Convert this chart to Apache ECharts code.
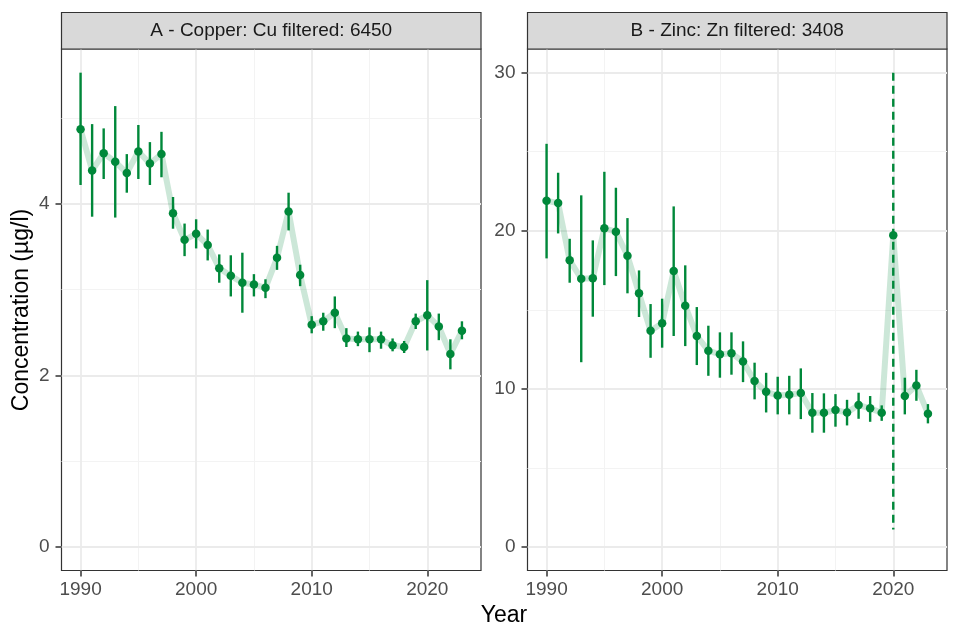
<!DOCTYPE html>
<html>
<head>
<meta charset="utf-8">
<script src="https://cdn.jsdelivr.net/npm/echarts@6/dist/echarts.min.js"></script>
<style>html,body{margin:0;padding:0;background:#fff}#c{width:960px;height:640px}</style>
</head>
<body>
<div id="c"></div>
<script>
const years = [1990,1991,1992,1993,1994,1995,1996,1997,1998,1999,2000,2001,2002,2003,2004,2005,2006,2007,2008,2009,2010,2011,2012,2013,2014,2015,2016,2017,2018,2019,2020,2021,2022,2023];
const cuMean = [4.87,4.39,4.59,4.49,4.36,4.61,4.47,4.58,3.89,3.58, 3.65,3.52,3.25,3.16,3.08,3.06,3.02,3.37,3.91,3.17, 2.59,2.63,2.73,2.43,2.42,2.42,2.42,2.35,2.33,2.63, 2.70,2.57,2.25,2.52];
const cuLow  = [4.22,3.85,4.29,3.84,4.13,4.29,4.22,4.31,3.71,3.39, 3.48,3.34,3.08,2.92,2.73,2.92,2.90,3.23,3.69,3.04, 2.49,2.52,2.55,2.33,2.34,2.27,2.31,2.28,2.26,2.54, 2.29,2.41,2.07,2.42];
const cuHigh = [5.53,4.93,4.88,5.14,4.58,4.92,4.72,4.84,4.08,3.77, 3.82,3.70,3.41,3.40,3.43,3.18,3.12,3.51,4.13,3.29, 2.69,2.73,2.92,2.55,2.51,2.56,2.51,2.43,2.40,2.72, 3.11,2.72,2.42,2.63];
const znMean = [21.9,21.75,18.13,16.96,17.0,20.15,19.94,18.42,16.04,13.67, 14.14,17.45,15.25,13.34,12.41,12.18,12.24,11.73,10.49,9.81, 9.58,9.62,9.73,8.48,8.48,8.65,8.5,8.97,8.76,8.48, 19.72,9.54,10.21,8.42];
const znLow  = [18.25,19.83,16.71,11.68,14.56,16.56,17.13,16.04,14.54,11.96, 12.6,13.34,12.7,11.5,10.82,10.70,10.89,10.42,9.33,8.5, 8.38,8.38,8.08,7.22,7.22,7.6,7.68,8.1,7.91,7.97, 1.1,8.38,9.24,7.81];
const znHigh = [25.5,23.67,19.49,22.24,19.39,23.73,22.72,20.8,17.49,15.36, 15.70,21.54,17.81,15.17,13.99,13.57,13.57,13.0,11.65,11.01, 10.76,10.82,11.29,9.73,9.71,9.66,9.3,9.75,9.54,8.95, 30.0,10.7,11.2,9.03];
const znDashedYears = [2020];
const xMajor = [1990,2000,2010,2020];
const xMinor = [1995,2005,2015];
const cuYMajor = [0,2,4];
const cuYMinor = [1,3,5];
const znYMajor = [0,10,20,30];
const znYMinor = [5,15,25];
const titleA = 'A - Copper: Cu filtered: 6450';
const titleB = 'B - Zinc: Zn filtered: 3408';

const GREEN = '#00883A';
const FONT = 'Liberation Sans, Arial, sans-serif';
const chart = echarts.init(document.getElementById('c'), null, {renderer:'canvas'});

const gridA = {left:61.5, top:49, width:419.5, height:521.5};
const gridB = {left:527.5, top:49, width:419.5, height:521.5};

function xAx(gi, major) {
  const vals = major ? xMajor : xMinor;
  return {
    type:'value', gridIndex:gi, min:1988.35, max:2024.65, position:'bottom',
    axisLine:{show:false, onZero:false},
    axisTick:{show:major, customValues:vals, length:6, lineStyle:{color:'#333', width:1.5}},
    axisLabel:{show:major, customValues:vals, margin:10, color:'#4D4D4D', fontSize:19, fontFamily:FONT,
               formatter:function(v){return String(v);}},
    splitLine:{show:true, lineStyle:{color: major ? '#EBEBEB' : '#F3F3F3', width: major ? 1.8 : 1}},
    z: major ? 2 : 1
  };
}
function yAx(gi, major, min, max, majVals, minVals) {
  const vals = major ? majVals : minVals;
  return {
    type:'value', gridIndex:gi, min:min, max:max, position:'left',
    axisLine:{show:false, onZero:false},
    axisTick:{show:major, customValues:vals, length:6, lineStyle:{color:'#333', width:1.5}},
    axisLabel:{show:major, customValues:vals, margin:12, color:'#4D4D4D', fontSize:19, fontFamily:FONT,
               formatter:function(v){return String(v);}},
    splitLine:{show:true, lineStyle:{color: major ? '#EBEBEB' : '#F3F3F3', width: major ? 1.8 : 1}},
    z: major ? 2 : 1
  };
}

function errRender(params, api) {
  const x = api.value(0), lo = api.value(1), hi = api.value(2), dashed = api.value(3);
  const p1 = api.coord([x, hi]);
  const p2 = api.coord([x, lo]);
  return {
    type:'line',
    shape:{x1:p1[0], y1:p1[1], x2:p2[0], y2:p2[1]},
    style:{stroke:GREEN, lineWidth:2.4, lineDash: dashed ? [8,5] : null}
  };
}

function errData(lo, hi, dashedYears) {
  return years.map((y,i) => [y, lo[i], hi[i], dashedYears.indexOf(y) >= 0 ? 1 : 0]);
}
function pts(vals) { return years.map((y,i) => [y, vals[i]]); }

function panelSeries(xi, yi, mean, lo, hi, dashedYears) {
  return [
    {type:'line', xAxisIndex:xi, yAxisIndex:yi, data:pts(mean), showSymbol:false, symbol:'none',
     lineStyle:{color:'rgba(0,136,58,0.2)', width:6}, z:3, silent:true, animation:false},
    {type:'custom', xAxisIndex:xi, yAxisIndex:yi, data:errData(lo, hi, dashedYears),
     renderItem:errRender, encode:{x:0, y:[1,2]}, z:4, silent:true, animation:false},
    {type:'scatter', xAxisIndex:xi, yAxisIndex:yi, data:pts(mean), symbol:'circle', symbolSize:8.5,
     itemStyle:{color:GREEN, opacity:1}, z:5, silent:true, animation:false}
  ];
}

const option = {
  animation:false,
  backgroundColor:'#ffffff',
  grid:[
    Object.assign({show:true, borderColor:'#333333', borderWidth:1.2, backgroundColor:'transparent'}, gridA),
    Object.assign({show:true, borderColor:'#333333', borderWidth:1.2, backgroundColor:'transparent'}, gridB)
  ],
  xAxis:[ xAx(0,true), xAx(0,false), xAx(1,true), xAx(1,false) ],
  yAxis:[
    yAx(0,true,-0.2765,5.806,cuYMajor,cuYMinor), yAx(0,false,-0.2765,5.806,cuYMajor,cuYMinor),
    yAx(1,true,-1.5,31.5,znYMajor,znYMinor), yAx(1,false,-1.5,31.5,znYMajor,znYMinor)
  ],
  series: [].concat(
    panelSeries(0,0,cuMean,cuLow,cuHigh,[]),
    panelSeries(2,2,znMean,znLow,znHigh,znDashedYears)
  ),
  graphic:[
    {type:'rect', shape:{x:gridA.left, y:12.5, width:gridA.width, height:36.5}, style:{fill:'#D9D9D9', stroke:'#333333', lineWidth:1.2}, z:10},
    {type:'text', x:gridA.left+gridA.width/2, y:31, style:{text:titleA, fill:'#1A1A1A', fontSize:19, fontFamily:FONT, align:'center', verticalAlign:'middle'}, z:11},
    {type:'rect', shape:{x:gridB.left, y:12.5, width:gridB.width, height:36.5}, style:{fill:'#D9D9D9', stroke:'#333333', lineWidth:1.2}, z:10},
    {type:'text', x:gridB.left+gridB.width/2, y:31, style:{text:titleB, fill:'#1A1A1A', fontSize:19, fontFamily:FONT, align:'center', verticalAlign:'middle'}, z:11},
    {type:'text', x:504, y:616, style:{text:'Year', fill:'#000000', fontSize:23, fontFamily:FONT, align:'center', verticalAlign:'middle'}, z:11},
    {type:'text', x:22, y:310, rotation:Math.PI/2, style:{text:'Concentration (µg/l)', fill:'#000000', fontSize:23, fontFamily:FONT, align:'center', verticalAlign:'middle'}, z:11}
  ]
};
chart.setOption(option);
</script>
</body>
</html>
